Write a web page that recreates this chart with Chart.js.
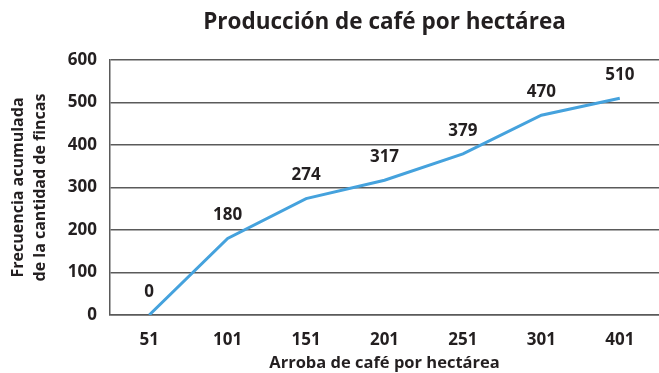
<!DOCTYPE html>
<html>
<head>
<meta charset="utf-8">
<script src="https://cdn.jsdelivr.net/npm/chart.js@4/dist/chart.umd.min.js"></script>
<style>
  html, body { margin: 0; padding: 0; background: #ffffff; }
  #wrap { width: 659px; height: 373px; }
</style>
</head>
<body>
<div id="wrap"><canvas id="c" width="659" height="373"></canvas></div>
<script>
// Arrobas per hectare (class marks) and cumulative number of farms
const categories = ['51', '101', '151', '201', '251', '301', '401'];
const cumulativeFarms = [0, 180, 274, 317, 379, 470, 510];
const yTicks = [0, 100, 200, 300, 400, 500, 600];

const titleText = 'Producción de café por hectárea';
const xTitle = 'Arroba de café por hectárea';
const yTitle = ['Frecuencia acumulada', 'de la cantidad de fincas'];

const FONT = "'Open Sans', 'Noto Sans', sans-serif";
const TEXT = '#231f20';
const GRID = '#5a5a5a';

// Writes each point's value above it
const valueLabels = {
  id: 'valueLabels',
  afterDatasetsDraw(chart) {
    const ctx = chart.ctx;
    const meta = chart.getDatasetMeta(0);
    const data = chart.data.datasets[0].data;
    ctx.save();
    ctx.font = `700 17px ${FONT}`;
    ctx.fillStyle = TEXT;
    ctx.textAlign = 'center';
    ctx.textBaseline = 'middle';
    meta.data.forEach((pt, i) => {
      ctx.fillText(String(data[i]), pt.x, pt.y - 23);
    });
    ctx.restore();
  }
};

new Chart(document.getElementById('c'), {
  type: 'line',
  data: {
    labels: categories,
    datasets: [{
      data: cumulativeFarms,
      borderColor: '#45a2dd',
      borderWidth: 3,
      pointRadius: 0,
      tension: 0,
      fill: false
    }]
  },
  options: {
    responsive: false,
    animation: false,
    layout: { padding: { left: 0, right: 0, top: 0, bottom: 0 } },
    plugins: {
      legend: { display: false },
      tooltip: { enabled: false },
      title: {
        display: true,
        text: titleText,
        fullSize: false,
        color: TEXT,
        font: { family: FONT, size: 22.5, weight: '700' },
        padding: { top: 9, bottom: 24 }
      }
    },
    scales: {
      x: {
        type: 'category',
        offset: true,
        grid: { display: false, drawTicks: false },
        border: { display: true, color: GRID, width: 1.5 },
        ticks: {
          color: TEXT,
          font: { family: FONT, size: 17, weight: '700' },
          padding: 15,
          maxRotation: 0,
          autoSkip: false
        },
        title: {
          display: true,
          text: xTitle,
          color: TEXT,
          font: { family: FONT, size: 16.5, weight: '700' },
          padding: { top: 0, bottom: 0 }
        },
        afterFit(axis) { axis.height = 58; }
      },
      y: {
        min: 0,
        max: 600,
        afterBuildTicks(axis) { axis.ticks = yTicks.map(v => ({ value: v })); },
        grid: { color: GRID, lineWidth: 1.5, drawTicks: false },
        border: { display: true, color: GRID, width: 1.5 },
        ticks: {
          color: TEXT,
          font: { family: FONT, size: 17, weight: '700' },
          padding: 13
        },
        title: {
          display: true,
          text: yTitle,
          color: TEXT,
          font: { family: FONT, size: 16, weight: '700', lineHeight: 1.4 },
          padding: { top: 7, bottom: 0 }
        },
        afterFit(axis) { axis.width = 110; }
      }
    }
  },
  plugins: [valueLabels]
});
</script>
</body>
</html>
